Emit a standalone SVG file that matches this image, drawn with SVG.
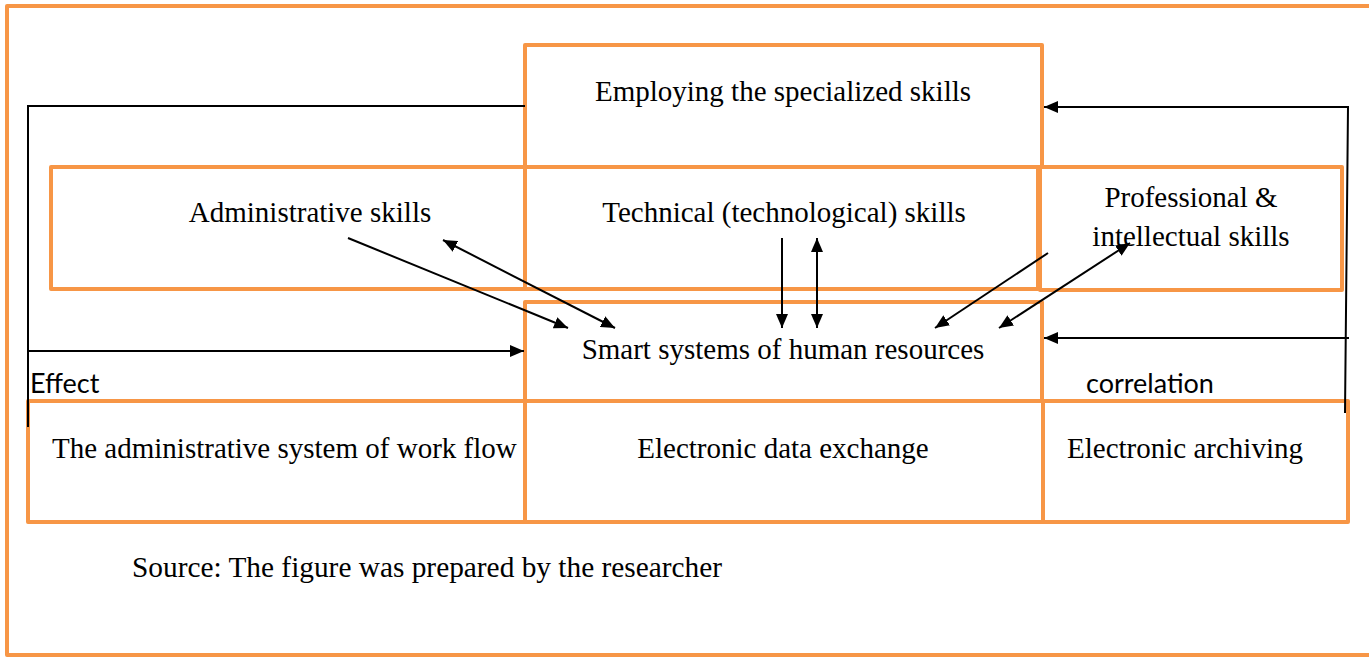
<svg xmlns="http://www.w3.org/2000/svg" width="1369" height="658" viewBox="0 0 1369 658">
  <defs>
    <style>
      .box { fill: none; stroke: #F79646; stroke-width: 4; stroke-linejoin: round; }
      .lbl { font-family: "Liberation Serif", "Times New Roman", serif; font-size: 29px; fill: #000; }
      .mid { text-anchor: middle; }
      .note { font-family: Lato, "Liberation Sans", sans-serif; font-size: 27px; fill: #000; }
      .wire { fill: none; stroke: #000; stroke-width: 2; }
    </style>
    <marker id="head" viewBox="0 0 14 12" refX="14" refY="6" markerWidth="14" markerHeight="12" markerUnits="userSpaceOnUse" orient="auto-start-reverse">
      <path d="M0,0 L14,6 L0,12 Z" fill="#000"/>
    </marker>
  </defs>

  <rect width="1369" height="658" fill="#fff"/>

  <!-- outer frame -->
  <rect class="box" x="7" y="6" width="1370" height="649"/>

  <g id="employing">
    <rect class="box" x="525" y="45" width="517" height="122"/>
    <text class="lbl mid" x="783" y="101">Employing the specialized skills</text>
  </g>

  <g id="skills-row">
    <rect class="box" x="51" y="167" width="987" height="122"/>
    <line class="box" x1="525" y1="167" x2="525" y2="289"/>
  </g>

  <g id="administrative">
    <text class="lbl mid" x="310" y="222">Administrative skills</text>
  </g>

  <g id="technical">
    <text class="lbl mid" x="784" y="222">Technical (technological) skills</text>
  </g>

  <g id="professional">
    <rect class="box" x="1040" y="167" width="302" height="123"/>
    <text class="lbl mid" x="1191" y="207">Professional &amp;</text>
    <text class="lbl mid" x="1191" y="246">intellectual skills</text>
  </g>

  <g id="smart-systems">
    <rect class="box" x="525" y="302" width="517" height="99"/>
    <text class="lbl mid" x="783" y="359">Smart systems of human resources</text>
  </g>

  <g id="systems-row">
    <rect class="box" x="28" y="401" width="1320" height="121"/>
    <line class="box" x1="525" y1="401" x2="525" y2="522"/>
    <line class="box" x1="1043" y1="401" x2="1043" y2="522"/>
  </g>

  <g id="workflow">
    <text class="lbl" x="52" y="458">The administrative system of work flow</text>
  </g>

  <g id="data-exchange">
    <text class="lbl mid" x="783" y="458">Electronic data exchange</text>
  </g>

  <g id="archiving">
    <text class="lbl mid" x="1185" y="458">Electronic archiving</text>
  </g>

  <g id="connectors">
    <!-- effect loop on the left -->
    <polyline class="wire" points="525,106 28,106 28,427"/>
    <line class="wire" x1="28" y1="351" x2="524" y2="351" marker-end="url(#head)"/>
    <!-- correlation loop on the right -->
    <polyline class="wire" points="1345,413 1348,107 1044,107" marker-end="url(#head)"/>
    <line class="wire" x1="1349" y1="338" x2="1044" y2="338" marker-end="url(#head)"/>
    <!-- skills to smart systems -->
    <line class="wire" x1="348" y1="238" x2="568" y2="328" marker-end="url(#head)"/>
    <line class="wire" x1="443" y1="240" x2="615" y2="328" marker-start="url(#head)" marker-end="url(#head)"/>
    <line class="wire" x1="782" y1="238" x2="782" y2="328" marker-end="url(#head)"/>
    <line class="wire" x1="817" y1="238" x2="817" y2="328" marker-start="url(#head)" marker-end="url(#head)"/>
    <line class="wire" x1="1048" y1="253" x2="935" y2="328" marker-end="url(#head)"/>
    <line class="wire" x1="1130" y1="243" x2="999" y2="328" marker-start="url(#head)" marker-end="url(#head)"/>
  </g>

  <g id="labels">
    <text class="note" x="30" y="393">Effect</text>
    <text class="note" x="1086" y="393">correlation</text>
    <text class="lbl" x="132" y="577" textLength="590" lengthAdjust="spacingAndGlyphs">Source: The figure was prepared by the researcher</text>
  </g>
</svg>
